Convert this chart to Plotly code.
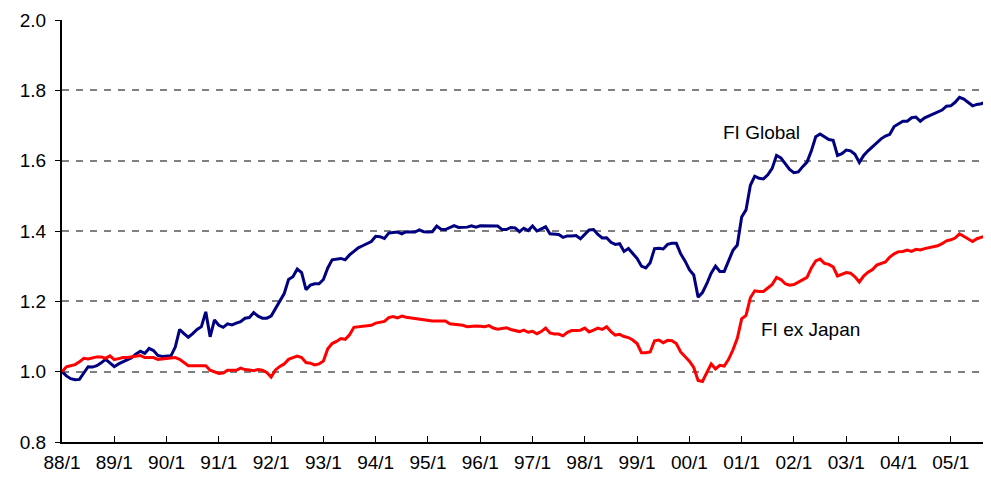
import plotly.graph_objects as go

# Monthly index values, 88/1 .. 05/9
fi_global = [
    1.000, 0.988, 0.980, 0.977, 0.978, 0.995, 1.014, 1.013, 1.017, 1.025,
    1.035, 1.025, 1.014, 1.022, 1.028, 1.033, 1.040, 1.050, 1.058, 1.052,
    1.066, 1.060, 1.046, 1.043, 1.044, 1.045, 1.070, 1.120, 1.108, 1.098,
    1.108, 1.120, 1.128, 1.170, 1.099, 1.147, 1.132, 1.126, 1.136, 1.133,
    1.138, 1.142, 1.152, 1.154, 1.168, 1.158, 1.152, 1.152, 1.158, 1.178,
    1.200, 1.222, 1.262, 1.270, 1.292, 1.282, 1.233, 1.246, 1.250, 1.250,
    1.262, 1.295, 1.318, 1.320, 1.322, 1.318, 1.332, 1.342, 1.352, 1.358,
    1.363, 1.370, 1.385, 1.384, 1.379, 1.394, 1.396, 1.397, 1.392, 1.398,
    1.397, 1.397, 1.403, 1.398, 1.397, 1.398, 1.414, 1.405, 1.404, 1.410,
    1.415, 1.410, 1.410, 1.411, 1.415, 1.411, 1.415, 1.415, 1.415, 1.415,
    1.414, 1.404, 1.404, 1.410, 1.409, 1.398, 1.408, 1.401, 1.414, 1.400,
    1.405, 1.412, 1.392, 1.391, 1.390, 1.382, 1.386, 1.386, 1.387, 1.378,
    1.390, 1.403, 1.404, 1.390, 1.380, 1.381, 1.368, 1.362, 1.364, 1.342,
    1.350, 1.336, 1.322, 1.300, 1.295, 1.310, 1.350, 1.351, 1.349, 1.362,
    1.365, 1.365, 1.335, 1.315, 1.290, 1.275, 1.212, 1.225, 1.250, 1.280,
    1.300, 1.285, 1.285, 1.315, 1.345, 1.360, 1.440, 1.460, 1.530, 1.556,
    1.550, 1.548, 1.560, 1.578, 1.615, 1.608, 1.590, 1.575, 1.566, 1.568,
    1.583, 1.596, 1.628, 1.668, 1.676, 1.668, 1.660, 1.658, 1.615, 1.620,
    1.630, 1.628, 1.618, 1.595, 1.615, 1.628, 1.640, 1.652, 1.662, 1.670,
    1.675, 1.697, 1.705, 1.712, 1.712, 1.722, 1.724, 1.712, 1.722, 1.728,
    1.733, 1.738, 1.744, 1.755, 1.756, 1.766, 1.780, 1.775, 1.766, 1.756,
    1.760, 1.762, 1.767,
]

fi_ex_japan = [
    1.000, 1.014, 1.017, 1.020, 1.028, 1.038, 1.036, 1.040, 1.042, 1.042,
    1.038, 1.045, 1.034, 1.037, 1.040, 1.040, 1.042, 1.043, 1.046, 1.040,
    1.040, 1.040, 1.035, 1.036, 1.036, 1.037, 1.040, 1.035, 1.025, 1.017,
    1.017, 1.017, 1.017, 1.017, 1.004, 1.000, 0.995, 0.996, 1.004, 1.004,
    1.004, 1.010, 1.006, 1.005, 1.003, 1.006, 1.004, 0.998, 0.985, 1.005,
    1.015, 1.022, 1.035, 1.040, 1.044, 1.040, 1.026, 1.024, 1.019, 1.022,
    1.030, 1.065, 1.080, 1.086, 1.094, 1.092, 1.105, 1.126, 1.127, 1.128,
    1.130, 1.132, 1.138, 1.140, 1.143, 1.154, 1.157, 1.153, 1.158, 1.155,
    1.153, 1.150, 1.148, 1.147, 1.146, 1.144, 1.144, 1.144, 1.144, 1.136,
    1.135, 1.135, 1.132, 1.128, 1.130, 1.130, 1.129, 1.128, 1.131, 1.124,
    1.121, 1.122, 1.125, 1.120, 1.116, 1.114, 1.118, 1.112, 1.115, 1.108,
    1.114, 1.124, 1.110, 1.107, 1.107, 1.102, 1.112, 1.117, 1.117, 1.118,
    1.124, 1.113, 1.118, 1.124, 1.120, 1.128, 1.114, 1.104, 1.106, 1.100,
    1.097, 1.090, 1.080, 1.054, 1.054, 1.056, 1.088, 1.090, 1.082, 1.089,
    1.088, 1.080, 1.056, 1.044, 1.030, 1.012, 0.975, 0.972, 0.995, 1.022,
    1.008, 1.018, 1.016, 1.035, 1.062, 1.095, 1.150, 1.160, 1.210, 1.230,
    1.228, 1.228, 1.238, 1.248, 1.268, 1.262, 1.250, 1.246, 1.248, 1.254,
    1.260, 1.268, 1.295, 1.315, 1.320, 1.308, 1.305, 1.298, 1.272, 1.276,
    1.282, 1.280, 1.270, 1.255, 1.272, 1.283, 1.290, 1.303, 1.308, 1.312,
    1.326, 1.335, 1.341, 1.342, 1.346, 1.342, 1.348, 1.346, 1.350, 1.353,
    1.355, 1.358, 1.364, 1.372, 1.375, 1.380, 1.392, 1.385, 1.377, 1.370,
    1.378, 1.382, 1.386,
]

year_labels = ["88/1", "89/1", "90/1", "91/1", "92/1", "93/1", "94/1", "95/1", "96/1",
               "97/1", "98/1", "99/1", "00/1", "01/1", "02/1", "03/1", "04/1", "05/1"]
y_ticks = [0.8, 1.0, 1.2, 1.4, 1.6, 1.8, 2.0]

months = list(range(len(fi_global)))
tick_pos = [12 * i for i in range(len(year_labels))]

font_family = "Liberation Sans, Arial, sans-serif"

fig = go.Figure()
fig.add_trace(go.Scatter(x=months, y=fi_global, mode="lines", name="FI Global",
                         line=dict(color="#000080", width=3)))
fig.add_trace(go.Scatter(x=months, y=fi_ex_japan, mode="lines", name="FI ex Japan",
                         line=dict(color="#FF0000", width=3)))

fig.add_annotation(x=160.5, y=1.68, text="FI Global", showarrow=False,
                   font=dict(size=19, color="#000000", family=font_family))
fig.add_annotation(x=171.8, y=1.12, text="FI ex Japan", showarrow=False,
                   font=dict(size=19, color="#000000", family=font_family))

# page body has an 8px margin, so the figure is sized/offset to compensate
fig.update_layout(
    width=983, height=470,
    margin=dict(l=54, r=1, t=12, b=36),
    paper_bgcolor="white", plot_bgcolor="white",
    showlegend=False,
    font=dict(family=font_family, size=19, color="#000000"),
    xaxis=dict(
        range=[0, 213], tickvals=tick_pos, ticktext=year_labels,
        showgrid=False, zeroline=False,
        showline=True, linecolor="#000000", linewidth=2,
        ticks="inside", ticklen=6, tickcolor="#000000", tickwidth=1,
        tickfont=dict(size=19), ticklabelstandoff=2,
    ),
    yaxis=dict(
        range=[0.8, 2.0], tickvals=y_ticks, tickformat=".1f",
        showgrid=True, gridcolor="#808080", gridwidth=1.5, griddash="7px,7px",
        zeroline=False,
        showline=True, linecolor="#000000", linewidth=2,
        ticks="outside", ticklen=5, tickcolor="#000000", tickwidth=1,
        tickfont=dict(size=19), ticklabelstandoff=5,
    ),
)

fig.write_html("out.html")
